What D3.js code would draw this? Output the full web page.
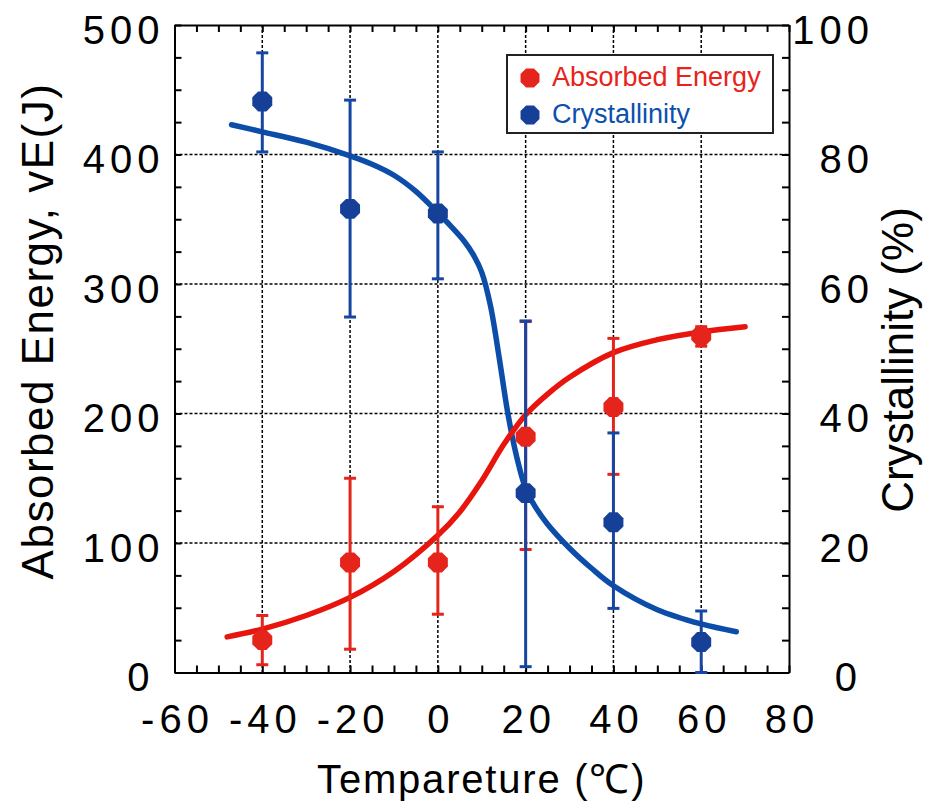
<!DOCTYPE html>
<html>
<head>
<meta charset="utf-8">
<script src="https://cdn.jsdelivr.net/npm/d3@7"></script>
<style>
  html, body { margin: 0; padding: 0; background: #fff; }
  svg { display: block; }
  text { font-family: "Liberation Sans", Arial, sans-serif; }
</style>
</head>
<body>
<svg id="chart" width="941" height="804"></svg>
<script>
// ---- data ----
const temps = [-40, -20, 0, 20, 40, 60];
const energy   = [25, 85, 85, 182, 205, 260];
const energyHi = [44, 150, 128, 271, 258, 267];
const energyLo = [6, 18, 45, 95, 153, 252];
const crystal   = [88.2, 71.6, 70.9, 27.7, 23.2, 4.7];
const crystalHi = [95.7, 88.4, 80.4, 54.3, 37.0, 9.5];
const crystalLo = [80.4, 54.9, 60.8, 0.9, 9.9, 0];

const energyCurveT = [-48, -40, -30, -20, -10, 0, 5, 10, 15, 20, 25, 30, 40, 50, 60, 70];
const energyCurve  = [27.5, 33.5, 44, 58, 78, 106, 124, 148, 176, 199, 215, 228, 247, 257, 263, 267];
const crystalCurveT = [-47, -40, -30, -20, -15, -10, -5, 0, 3, 6, 8, 10, 12, 14, 16, 18, 20, 22, 25, 30, 35, 40, 50, 60, 68];
const crystalCurve  = [84.6, 83.5, 81.9, 79.8, 78.5, 76.8, 74.3, 71.0, 68.9, 66.6, 64.6, 61.8, 56.6, 48.5, 39.8, 33.2, 28.4, 25.8, 22.9, 19.2, 16.1, 13.4, 9.7, 7.5, 6.3];

const xTicks = [-60, -40, -20, 0, 20, 40, 60, 80];
const yLeftTicks = [0, 100, 200, 300, 400, 500];
const yRightTicks = [0, 20, 40, 60, 80, 100];
const legendLabels = ["Absorbed Energy", "Crystallinity"];

// ---- layout ----
const RED = "#e5241c", RED_LINE = "#e8150f";
const BLUE = "#163f98", BLUE_LINE = "#0b4da8";
const L = 174.5, R = 789, T = 25, B = 672.5;

const svg = d3.select("#chart");
const x = d3.scaleLinear().domain([-60, 80]).range([L, R]);
const yL = d3.scaleLinear().domain([0, 500]).range([B, T]);
const yR = d3.scaleLinear().domain([0, 100]).range([B, T]);

// grid
const gGrid = svg.append("g");
gGrid.selectAll("line.vx").data(xTicks.slice(1, -1)).join("line")
  .attr("x1", d => x(d)).attr("x2", d => x(d)).attr("y1", T).attr("y2", B)
  .attr("stroke", "#000").attr("stroke-width", 1.5).attr("stroke-dasharray", "3,2");
gGrid.selectAll("line.hy").data(yLeftTicks.slice(1, -1)).join("line")
  .attr("x1", L).attr("x2", R).attr("y1", d => yL(d)).attr("y2", d => yL(d))
  .attr("stroke", "#000").attr("stroke-width", 1.5).attr("stroke-dasharray", "3,2");

// axes
const fs = 40, ls = 5;
function styleAxis(g) {
  g.select(".domain").attr("stroke", "#000").attr("stroke-width", 2);
  g.selectAll(".tick line").attr("stroke", "#000").attr("stroke-width", 2);
  g.selectAll(".tick text").attr("fill", "#000")
    .style("font-size", fs + "px").style("letter-spacing", ls + "px")
    .style("font-family", '"Liberation Sans", Arial, sans-serif');
}
const minorX = d3.range(-60, 81, 5);
const gx = svg.append("g").attr("transform", `translate(0,${B})`)
  .call(d3.axisBottom(x).tickValues(minorX).tickSize(-7).tickSizeOuter(0).tickPadding(32)
    .tickFormat(d => xTicks.includes(d) ? d : ""));
styleAxis(gx);
gx.selectAll(".tick text").attr("dx", ls / 2);

const gxt = svg.append("g").attr("transform", `translate(0,${T})`)
  .call(d3.axisTop(x).tickValues(minorX).tickSize(-7).tickSizeOuter(0).tickFormat(""));
styleAxis(gxt);

const gyl = svg.append("g").attr("transform", `translate(${L},0)`)
  .call(d3.axisLeft(yL).tickValues(d3.range(0, 501, 25)).tickSize(-7).tickSizeOuter(0).tickPadding(10)
    .tickFormat(d => yLeftTicks.includes(d) ? d : ""));
styleAxis(gyl);
gyl.selectAll(".tick text").attr("dy", "0.46em").attr("dx", d => d === 0 ? -10 : 0);

const gyr = svg.append("g").attr("transform", `translate(${R},0)`)
  .call(d3.axisRight(yR).tickValues(d3.range(0, 101, 5)).tickSize(-7).tickSizeOuter(0)
    .tickFormat(d => yRightTicks.includes(d) ? d : ""));
styleAxis(gyr);
gyr.selectAll(".tick text").attr("text-anchor", "end").attr("x", 85).attr("dy", "0.46em")
  .attr("dx", d => d === 0 ? -12 : 0);

// curves
const lineE = d3.line().x(d => x(d[0])).y(d => yL(d[1])).curve(d3.curveCatmullRom.alpha(0.5));
const lineC = d3.line().x(d => x(d[0])).y(d => yR(d[1])).curve(d3.curveCatmullRom.alpha(0.5));
svg.append("path").datum(crystalCurveT.map((t, i) => [t, crystalCurve[i]]))
  .attr("d", lineC).attr("fill", "none").attr("stroke", BLUE_LINE)
  .attr("stroke-width", 5.5).attr("stroke-linecap", "round");
svg.append("path").datum(energyCurveT.map((t, i) => [t, energyCurve[i]]))
  .attr("d", lineE).attr("fill", "none").attr("stroke", RED_LINE)
  .attr("stroke-width", 5.5).attr("stroke-linecap", "round");

// error bars
function errorBars(vals, lo, hi, yS, color) {
  const g = svg.append("g").attr("stroke", color).attr("stroke-width", 3);
  temps.forEach((t, i) => {
    const cx = x(t);
    g.append("line").attr("x1", cx).attr("x2", cx).attr("y1", yS(lo[i])).attr("y2", yS(hi[i]));
    [lo[i], hi[i]].forEach(v => {
      g.append("line").attr("x1", cx - 6).attr("x2", cx + 6).attr("y1", yS(v)).attr("y2", yS(v));
    });
  });
}
errorBars(energy, energyLo, energyHi, yL, RED);
errorBars(crystal, crystalLo, crystalHi, yR, "#1646a2");

// octagon markers
const octR = 10.8;
const octPts = d3.range(8).map(k => {
  const a = (22.5 + 45 * k) * Math.PI / 180;
  return [octR * Math.cos(a), octR * Math.sin(a)];
});
const octPath = "M" + octPts.map(p => p.join(",")).join("L") + "Z";
function markers(vals, yS, color) {
  svg.append("g").selectAll("path").data(vals).join("path")
    .attr("d", octPath)
    .attr("transform", (d, i) => `translate(${x(temps[i])},${yS(d)})`)
    .attr("fill", color);
}
markers(energy, yL, RED);
markers(crystal, yR, BLUE);

// axis titles
svg.append("text").attr("x", (L + R) / 2).attr("y", 793).attr("text-anchor", "middle")
  .style("font-size", "40px").style("letter-spacing", "1.8px").attr("fill", "#000")
  .text("Tempareture (℃)");
svg.append("text").attr("transform", `translate(53,331) rotate(-90)`)
  .attr("text-anchor", "middle").style("font-size", "44px").style("letter-spacing", "1.5px")
  .attr("fill", "#000").text("Absorbed Energy, vE(J)");
svg.append("text").attr("transform", `translate(913,360) rotate(-90)`)
  .attr("text-anchor", "middle").style("font-size", "44px").attr("fill", "#000")
  .text("Crystallinity (%)");

// legend
const lg = svg.append("g");
lg.append("rect").attr("x", 507).attr("y", 55).attr("width", 266).attr("height", 78)
  .attr("fill", "#fff").attr("stroke", "#222").attr("stroke-width", 2);
const legendColors = [RED, BLUE];
const legendText = ["#e8231a", "#0b50ad"];
legendLabels.forEach((lab, i) => {
  const cy = 78 + i * 37;
  lg.append("path").attr("d", octPath).attr("transform", `translate(530,${cy}) scale(0.95)`)
    .attr("fill", legendColors[i]);
  lg.append("text").attr("x", 552).attr("y", cy + 8).style("font-size", "27px")
    .attr("fill", legendText[i]).text(lab);
});
</script>
</body>
</html>
